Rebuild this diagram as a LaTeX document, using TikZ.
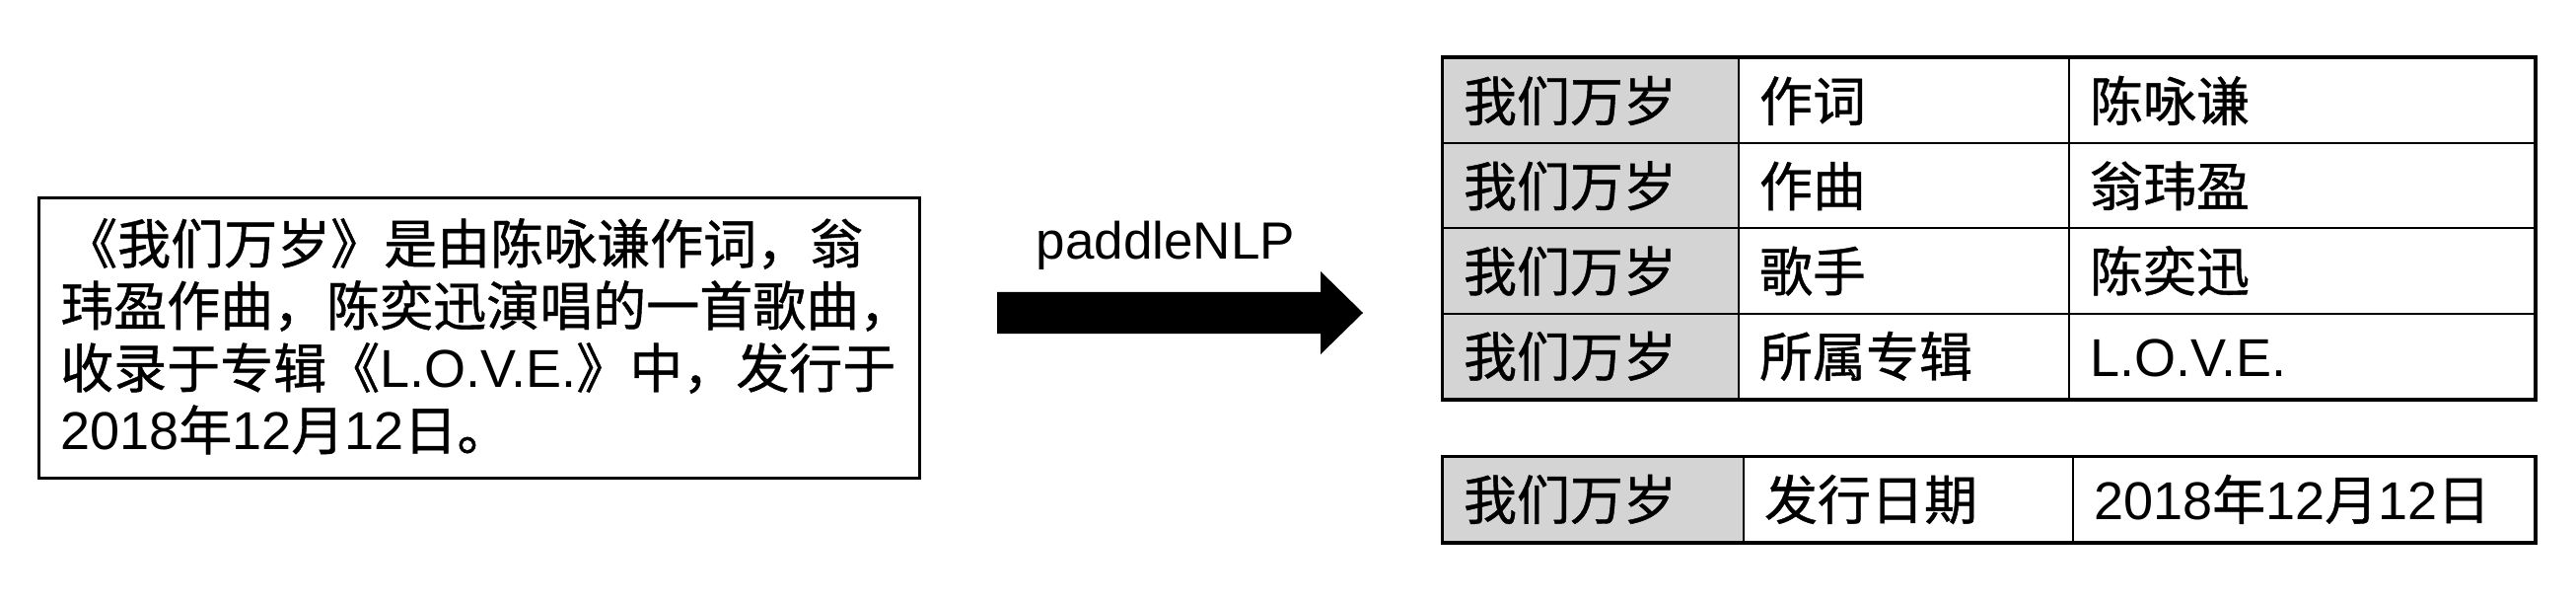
\documentclass[tikz,border=0pt]{standalone}
\usepackage{fontspec}
\usetikzlibrary{calc}
\setmainfont{Liberation Sans}
\newfontfamily\cjk[FakeBold=0.8]{Noto Sans CJK SC}
\newfontfamily\latf{Liberation Sans}
\newcommand\latn[1]{{\latf #1}}
\definecolor{cellgray}{RGB}{212,212,212}
\begin{document}
\begin{tikzpicture}[x=1pt,y=-1pt,
  cell/.style={draw, line width=2pt, anchor=north west, inner xsep=21pt, inner ysep=0pt,
    minimum height=86.25pt, text height=47.5pt, text depth=6.5pt, align=left,
    font=\cjk\fontsize{54}{63}\selectfont},
  keycell/.style={cell, fill=cellgray},
  frame/.style={line width=3pt}]
\useasboundingbox (0,0) rectangle (2612,612);

% source text box
\node[draw, frame, minimum width=893pt, minimum height=284pt, anchor=north west, inner sep=0pt] (src) at (38,199) {};
\node[anchor=base west, inner sep=0pt, font=\cjk\fontsize{54}{63}\selectfont] (srctext) at (61,267)
  {\vtop{\hbox{\kern4pt《我们万岁》是由陈咏谦作词，翁}\hbox{玮盈作曲，陈奕迅演唱的一首歌曲，}\hbox{收录于专辑《\latn{L.O.V.E.}》中，发行于}\hbox{\latn{2018}年\latn{12}月\latn{12}日。}}};

% block arrow
\coordinate (atail) at (1011,317);
\coordinate (atip) at (1382,317);
\fill ($(atail)+(0,-21)$) -- (1339,296) -- (1339,275) -- (atip) -- (1339,359) -- (1339,338) -- ($(atail)+(0,21)$) -- cycle;
\node[anchor=base, inner sep=0pt, font=\latf\fontsize{53}{60}\selectfont] (lbl) at (1182,263) {paddleNLP};

% table 1
\foreach \r/\y/\b/\c in {1/58/作词/陈咏谦, 2/144.25/作曲/翁玮盈, 3/230.5/歌手/陈奕迅, 4/316.75/所属专辑/\latn{L.O.V.E.}} {
  \node[keycell, text width=258pt] (t1r\r-1) at (1462,\y) {我们万岁};
  \node[cell, text width=293pt] (t1r\r-2) at (1762,\y) {\b};
  \node[cell, text width=430pt] (t1r\r-3) at (2097,\y) {\c};
}
\draw[frame] (t1r1-1.north west) rectangle (t1r4-3.south east);

% table 2
\node[keycell, text width=263pt, minimum height=86pt] (t2r1-1) at (1462,462) {我们万岁};
\node[cell, text width=292pt, minimum height=86pt] (t2r1-2) at (1767,462) {发行日期};
\node[cell, text width=426pt, minimum height=86pt] (t2r1-3) at (2101,462) {\latn{2018}年\latn{12}月\latn{12}日};
\draw[frame] (t2r1-1.north west) rectangle (t2r1-3.south east);
\end{tikzpicture}
\end{document}
